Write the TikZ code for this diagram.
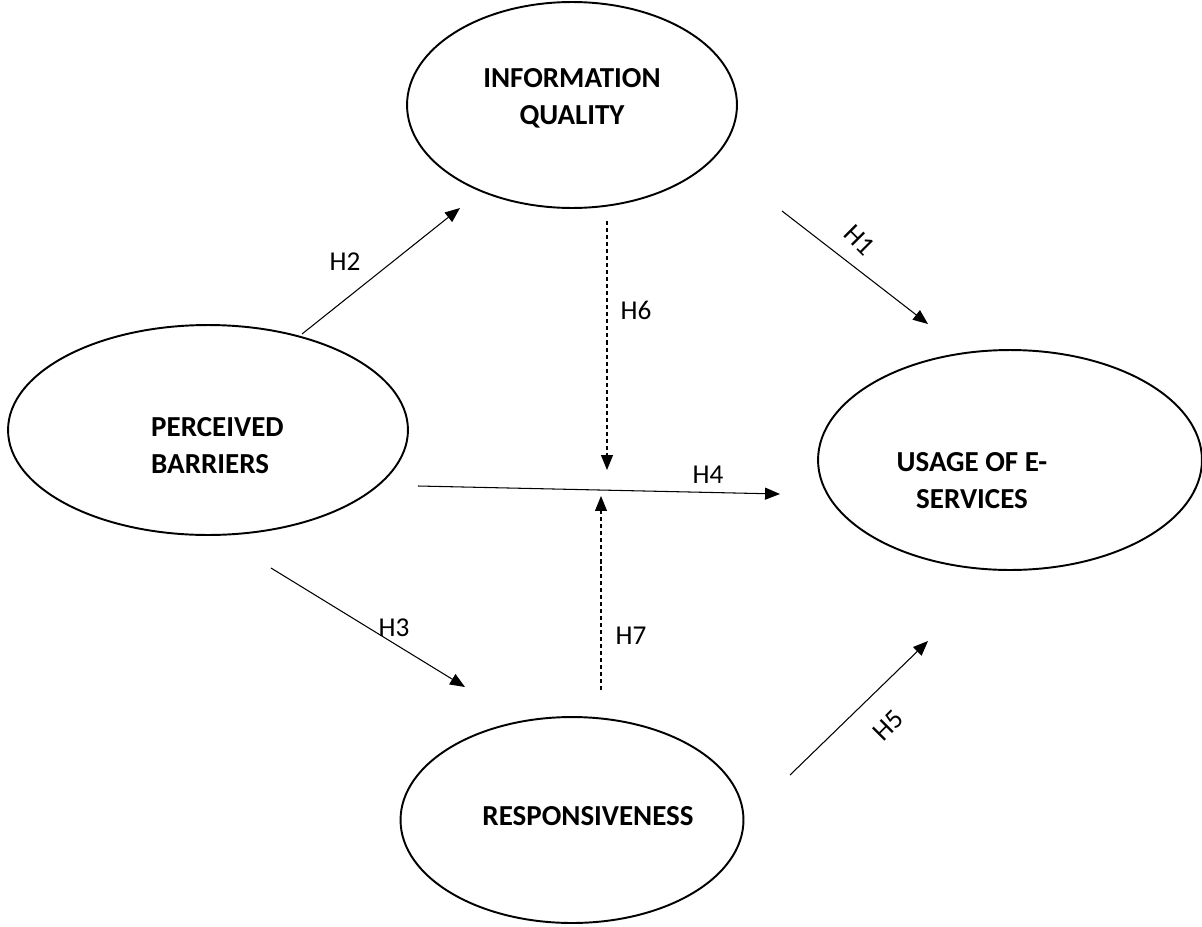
\documentclass[tikz,border=0pt]{standalone}
\usepackage{fontspec}
\setmainfont{Carlito}
\usetikzlibrary{shapes.geometric,arrows.meta}
\begin{document}
\begin{tikzpicture}[x=0.02cm,y=-0.02cm,
  oval/.style={draw,ellipse,line width=1.1pt,inner sep=0pt},
  lbl/.style={font=\fontsize{16.5}{21}\selectfont\bfseries,align=center},
  hl/.style={font=\fontsize{15.5}{17}\selectfont},
  arr/.style={line width=0.6pt,-{Triangle[length=8.5pt,width=6.8pt]}},
  darr/.style={arr,dash pattern=on 2.3pt off 1.7pt}]
\useasboundingbox (0,0) rectangle (1202,926);
% ellipses
\node[oval,minimum width=6.6cm,minimum height=4.12cm] (iq) at (572,105) {};
\node[oval,minimum width=8cm,minimum height=4.2cm] (pb) at (208,430) {};
\node[oval,minimum width=7.68cm,minimum height=4.4cm] (us) at (1010,460) {};
\node[oval,minimum width=6.86cm,minimum height=4.12cm] (rs) at (572,820) {};
% labels
\node[lbl] (tiq) at (572,98) {INFORMATION\\QUALITY};
\node[lbl,align=left,anchor=west] (tpb) at (145,446) {PERCEIVED\\BARRIERS};
\node[lbl] (tus) at (972,481) {USAGE OF E-\\SERVICES};
\node[lbl] (trs) at (588,816) {RESPONSIVENESS};
% connector endpoints
\coordinate (h2s) at (302,334); \coordinate (h2e) at (460,208);
\coordinate (h1s) at (782,211); \coordinate (h1e) at (928,324);
\coordinate (h6s) at (607,221); \coordinate (h6e) at (607,470);
\coordinate (h4s) at (418,486); \coordinate (h4e) at (780,494);
\coordinate (h7s) at (601,690); \coordinate (h7e) at (601,496);
\coordinate (h3s) at (271,568); \coordinate (h3e) at (465,687);
\coordinate (h5s) at (790,775); \coordinate (h5e) at (928,641);
\draw[arr] (h2s) -- (h2e);
\draw[arr] (h1s) -- (h1e);
\draw[darr] (h6s) -- (h6e);
\draw[arr] (h4s) -- (h4e);
\draw[darr] (h7s) -- (h7e);
\draw[arr] (h3s) -- (h3e);
\draw[arr] (h5s) -- (h5e);
% hypothesis labels
\node[hl] (lh2) at (345,262) {H2};
\node[hl,rotate=-45] (lh1) at (860,240) {H1};
\node[hl] (lh6) at (636,310) {H6};
\node[hl] (lh4) at (708,475) {H4};
\node[hl] (lh3) at (394,628) {H3};
\node[hl] (lh7) at (631,636) {H7};
\node[hl,rotate=45] (lh5) at (888,725) {H5};
\end{tikzpicture}
\end{document}
